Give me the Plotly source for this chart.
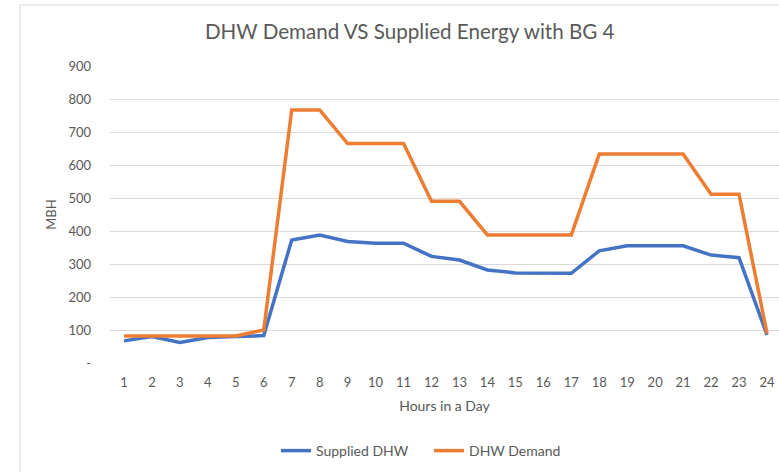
import plotly.graph_objects as go

hours = list(range(1, 25))
supplied_dhw = [67, 80, 62, 77, 80, 83, 373, 388, 368, 363, 363, 323, 312, 282, 273, 272, 272, 340, 355, 355, 355, 327, 319, 85]
dhw_demand = [82, 82, 82, 82, 82, 100, 767, 767, 665, 665, 665, 490, 490, 388, 388, 388, 388, 633, 633, 633, 633, 511, 511, 90]
y_ticks = [0, 100, 200, 300, 400, 500, 600, 700, 800, 900]
y_tick_labels = ["-", "100", "200", "300", "400", "500", "600", "700", "800", "900"]

FONT = "Lato, 'Open Sans', sans-serif"
GREY = "#595959"

fig = go.Figure()
fig.add_trace(go.Scatter(x=hours, y=supplied_dhw, mode="lines", name="Supplied DHW",
                         line=dict(color="#4472C4", width=3.5)))
fig.add_trace(go.Scatter(x=hours, y=dhw_demand, mode="lines", name="DHW Demand",
                         line=dict(color="#ED7D31", width=3.5)))

fig.update_layout(
    width=779, height=472,
    margin=dict(l=110, r=0, t=66, b=109),
    paper_bgcolor="white", plot_bgcolor="white",
    font=dict(family=FONT, color=GREY, size=13),
    title=dict(text="DHW Demand VS Supplied Energy with BG 4", x=0.526, xref="container",
               xanchor="center", y=1 - 32 / 472, yref="container", yanchor="middle",
               font=dict(size=20.6, color=GREY, family=FONT)),
    showlegend=True,
    legend=dict(orientation="h", x=(276 - 110) / 669, xref="paper", xanchor="left",
                y=(363 - 451) / 297, yanchor="middle",
                font=dict(size=14, color=GREY), entrywidth=108, entrywidthmode="pixels",
                tracegroupgap=0),
    xaxis=dict(range=[0.5, 24.43], tickmode="array", tickvals=hours,
               ticktext=[str(h) for h in hours], showgrid=False, zeroline=False,
               showline=False, ticks="", ticklabelstandoff=10,
               tickfont=dict(size=13, color=GREY),
               title=dict(text="Hours in a Day", standoff=12, font=dict(size=14, color=GREY))),
    yaxis=dict(range=[0, 900], tickmode="array", tickvals=y_ticks, ticktext=y_tick_labels,
               showgrid=True, gridcolor="#D9D9D9", gridwidth=1, zeroline=False,
               showline=False, ticks="", ticklabelstandoff=18,
               tickfont=dict(size=13, color=GREY),
               title=dict(text="MBH", standoff=8, font=dict(size=13, color=GREY))),
    shapes=[dict(type="rect", xref="paper", yref="paper",
                 x0=(20 - 110) / 669, x1=1.05, y0=-0.5, y1=(363 - 5) / 297,
                 line=dict(color="#D9D9D9", width=1), fillcolor="rgba(0,0,0,0)", layer="below")],
)

fig.write_html("out.html", config={"displayModeBar": False},
               post_script="document.body.style.margin='0';document.body.style.overflow='hidden';")
